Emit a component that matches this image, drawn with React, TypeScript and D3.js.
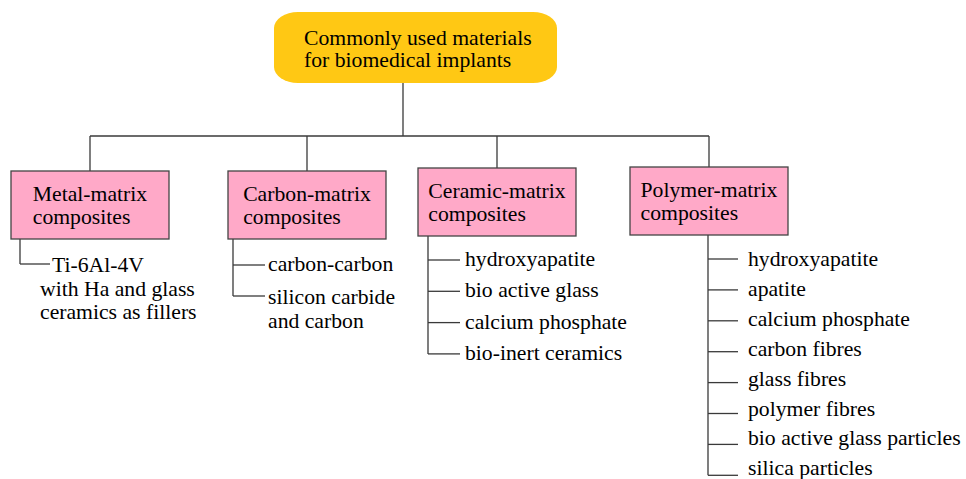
import * as d3 from "d3";
import { useEffect, useRef } from "react";

const WIDTH = 966;
const HEIGHT = 479;

const rootLines = ["Commonly used materials", "for biomedical implants"];

const categories = ["metal", "carbon", "ceramic", "polymer"];
const categoryLabels = [
  ["Metal-matrix", "composites"],
  ["Carbon-matrix", "composites"],
  ["Ceramic-matrix", "composites"],
  ["Polymer-matrix", "composites"],
];

// each child can wrap to several lines
const metalChildren = [["Ti-6Al-4V", "with Ha and glass", "ceramics as fillers"]];
const carbonChildren = [["carbon-carbon"], ["silicon carbide", "and carbon"]];
const ceramicChildren = [
  ["hydroxyapatite"],
  ["bio active glass"],
  ["calcium phosphate"],
  ["bio-inert ceramics"],
];
const polymerChildren = [
  ["hydroxyapatite"],
  ["apatite"],
  ["calcium phosphate"],
  ["carbon fibres"],
  ["glass fibres"],
  ["polymer fibres"],
  ["bio active glass particles"],
  ["silica particles"],
];
const childrenByCategory = [metalChildren, carbonChildren, ceramicChildren, polymerChildren];

const FONT = "Liberation Serif";
const FONT_SIZE = 21.7;
const LINE = "#3a3a3a";
const YELLOW = "#FFC814";
const PINK = "#FFA9C8";

export default function App() {
  const svgRef = useRef<SVGSVGElement | null>(null);

  useEffect(() => {
    if (!svgRef.current) return;
    const svg = d3.select(svgRef.current);
    svg.selectAll("*").remove();

    // layout scales
    const xCenter = d3.scaleOrdinal<string, number>().domain(categories).range([90, 307, 497, 709]);
    const boxTop = d3.scaleOrdinal<string, number>().domain(categories).range([171, 171, 168, 167]);
    const stemX = d3.scaleOrdinal<string, number>().domain(categories).range([20, 233, 428, 708]);
    const tickLen = d3.scaleOrdinal<string, number>().domain(categories).range([30, 32, 32, 30]);
    const textGap = d3.scaleOrdinal<string, number>().domain(categories).range([2, 3, 5, 10]);
    const rowStart = d3.scaleOrdinal<string, number>().domain(categories).range([264, 265, 260, 259]);
    const rowStep = d3.scaleOrdinal<string, number>().domain(categories).range([31, 31, 31.3, 30.9]);
    const textStart = d3.scaleOrdinal<string, number>().domain(categories).range([272, 271, 266, 266]);
    const textStep = d3.scaleOrdinal<string, number>().domain(categories).range([31, 33, 31.3, 29.9]);
    const BOX_W = 158;
    const BOX_H = 68;

    const root = { x: 274, y: 12, w: 283, h: 71 };
    const busY = 136;
    const rootX = 403;

    // root box
    svg
      .append("rect")
      .attr("x", root.x)
      .attr("y", root.y)
      .attr("width", root.w)
      .attr("height", root.h)
      .attr("rx", 24)
      .attr("ry", 16)
      .attr("fill", YELLOW);

    svg
      .append("text")
      .attr("font-family", FONT)
      .attr("font-size", FONT_SIZE)
      .attr("fill", "#000")
      .selectAll("tspan")
      .data(rootLines)
      .join("tspan")
      .attr("x", 304)
      .attr("y", (_, i) => 45 + i * 22)
      .text((d) => d);

    const lines = svg.append("g").attr("stroke", LINE).attr("stroke-width", 1.3).attr("fill", "none");

    // connectors root -> categories
    lines.append("line").attr("x1", rootX).attr("x2", rootX).attr("y1", root.y + root.h).attr("y2", busY);
    lines
      .append("line")
      .attr("x1", xCenter(categories[0]))
      .attr("x2", xCenter(categories[categories.length - 1]))
      .attr("y1", busY)
      .attr("y2", busY);

    categories.forEach((cat, ci) => {
      const cx = xCenter(cat);
      const top = boxTop(cat);
      lines.append("line").attr("x1", cx).attr("x2", cx).attr("y1", busY).attr("y2", top);

      const g = svg.append("g");
      g.append("rect")
        .attr("x", cx - BOX_W / 2)
        .attr("y", top)
        .attr("width", BOX_W)
        .attr("height", BOX_H)
        .attr("fill", PINK)
        .attr("stroke", "#444")
        .attr("stroke-width", 1.3);

      const label = g
        .append("text")
        .attr("font-family", FONT)
        .attr("font-size", FONT_SIZE)
        .attr("fill", "#000");
      const tspans = label
        .selectAll("tspan")
        .data(categoryLabels[ci])
        .join("tspan")
        .attr("y", (_, i) => top + 30 + i * 23)
        .text((d) => d);
      // first line centered, rest left-aligned to it
      const tmp = svg
        .append("text")
        .attr("font-family", FONT)
        .attr("font-size", FONT_SIZE)
        .text(categoryLabels[ci][0]);
      const w = (tmp.node() as SVGTextElement).getComputedTextLength();
      tmp.remove();
      tspans.attr("x", cx - w / 2);

      // children
      const kids = childrenByCategory[ci];
      const y = d3
        .scaleLinear()
        .domain([0, 1])
        .range([rowStart(cat), rowStart(cat) + rowStep(cat)]);
      const ty = d3
        .scaleLinear()
        .domain([0, 1])
        .range([textStart(cat), textStart(cat) + textStep(cat)]);
      const sx = stemX(cat);
      const ex = sx + tickLen(cat);
      lines
        .append("line")
        .attr("x1", sx)
        .attr("x2", sx)
        .attr("y1", top + BOX_H)
        .attr("y2", y(kids.length - 1));

      kids.forEach((kid, ki) => {
        const ky = y(ki);
        lines.append("line").attr("x1", sx).attr("x2", ex).attr("y1", ky).attr("y2", ky);
        svg
          .append("text")
          .attr("font-family", FONT)
          .attr("font-size", FONT_SIZE)
          .attr("fill", "#000")
          .selectAll("tspan")
          .data(kid)
          .join("tspan")
          .attr("x", (_, i) => (i === 0 || cat !== "metal" ? ex + textGap(cat) : ex - 10))
          .attr("y", (_, i) => ty(ki) + i * 23.5)
          .text((d) => d);
      });
    });
  }, []);

  return (
    <svg
      ref={svgRef}
      width={WIDTH}
      height={HEIGHT}
      style={{ position: "absolute", left: 0, top: 0, background: "#fff" }}
    />
  );
}
